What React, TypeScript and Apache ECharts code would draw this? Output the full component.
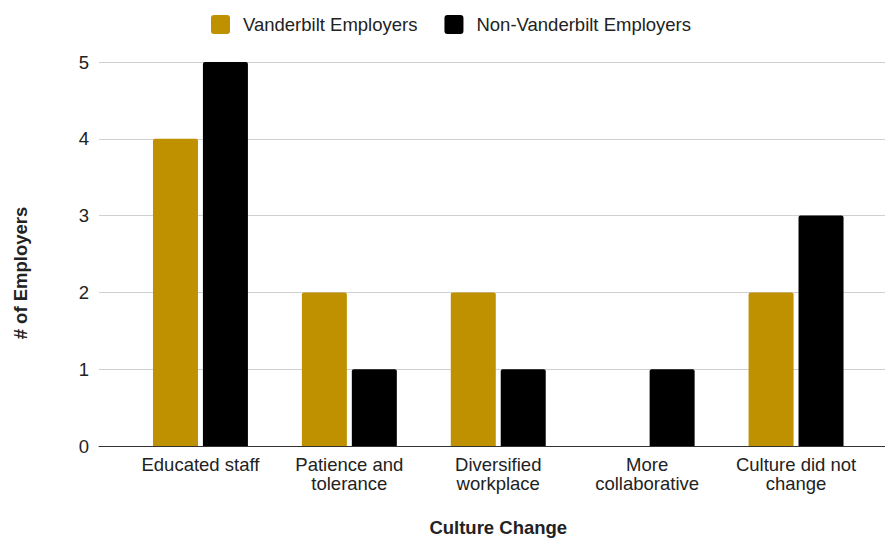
import React, { useEffect, useRef } from "react";
import * as echarts from "echarts";

const categories = [
  "Educated staff",
  "Patience and\ntolerance",
  "Diversified\nworkplace",
  "More\ncollaborative",
  "Culture did not\nchange",
];
const seriesNames = ["Vanderbilt Employers", "Non-Vanderbilt Employers"];
const vanderbilt = [4, 2, 2, 0, 2];
const nonVanderbilt = [5, 1, 1, 1, 3];
const xTitle = "Culture Change";
const yTitle = "# of Employers";

const FONT = "'Liberation Sans', Arial, sans-serif";
const FS = 18.5;
const ICON = "path://M3,0 H16 Q19,0 19,3 V16 Q19,19 16,19 H3 Q0,19 0,16 V3 Q0,0 3,0 Z";

export default function App() {
  const ref = useRef<HTMLDivElement>(null);
  useEffect(() => {
    if (!ref.current) return;
    const chart = echarts.init(ref.current, undefined, { renderer: "svg" });
    chart.setOption({
      animation: false,
      backgroundColor: "#ffffff",
      textStyle: { fontFamily: FONT },
      legend: {
        left: 211,
        top: 15,
        padding: 0,
        itemWidth: 19,
        itemHeight: 19,
        itemGap: 27,
        icon: ICON,
        textStyle: { fontSize: FS, color: "#222", fontFamily: FONT, padding: [0, 0, 0, 8] },
        data: seriesNames,
      },
      grid: [
        { left: 126, right: 14.5, top: 62, bottom: 94, outerBoundsMode: "none", containLabel: false },
        { left: 99, right: 0, top: 62, bottom: 94, outerBoundsMode: "none", containLabel: false },
      ],
      xAxis: [
        {
          type: "category",
          gridIndex: 0,
          data: categories,
          axisLine: { show: false },
          axisTick: { show: false },
          axisLabel: {
            fontSize: FS,
            lineHeight: 19,
            color: "#222",
            margin: 9,
            interval: 0,
            fontFamily: FONT,
          },
          name: xTitle,
          nameLocation: "middle",
          nameGap: 72,
          nameTextStyle: { fontSize: FS, fontWeight: "bold", color: "#222", fontFamily: FONT },
        },
        {
          type: "value",
          gridIndex: 1,
          min: 0,
          max: 1,
          axisLine: { show: true, lineStyle: { color: "#333", width: 1 } },
          axisTick: { show: false },
          axisLabel: { show: false },
          splitLine: { show: false },
        },
      ],
      yAxis: [
        { type: "value", gridIndex: 0, min: 0, max: 5, interval: 1, show: false },
        {
          type: "value",
          gridIndex: 1,
          min: 0,
          max: 5,
          interval: 1,
          axisLine: { show: false },
          axisTick: { show: false },
          axisLabel: { fontSize: FS, color: "#222", margin: 10, fontFamily: FONT },
          splitLine: { lineStyle: { color: "#d0d0d0", width: 1 } },
        },
      ],
      graphic: [
        {
          type: "text",
          x: 20,
          y: 273,
          rotation: Math.PI / 2,
          style: {
            text: yTitle,
            fontSize: FS,
            fontWeight: "bold",
            fill: "#222",
            fontFamily: FONT,
            textAlign: "center",
            textVerticalAlign: "middle",
          },
        },
      ],
      series: [
        {
          name: seriesNames[0],
          type: "bar",
          xAxisIndex: 0,
          yAxisIndex: 0,
          data: vanderbilt,
          barWidth: 45,
          barGap: "11%",
          itemStyle: { color: "#bf9000", borderRadius: [2, 2, 0, 0] },
        },
        {
          name: seriesNames[1],
          type: "bar",
          xAxisIndex: 0,
          yAxisIndex: 0,
          data: nonVanderbilt,
          barWidth: 45,
          barGap: "11%",
          itemStyle: { color: "#000000", borderRadius: [2, 2, 0, 0] },
        },
      ],
    });
    return () => chart.dispose();
  }, []);
  return (
    <div
      ref={ref}
      style={{ position: "fixed", left: 0, top: 0, width: 885, height: 540 }}
    />
  );
}
